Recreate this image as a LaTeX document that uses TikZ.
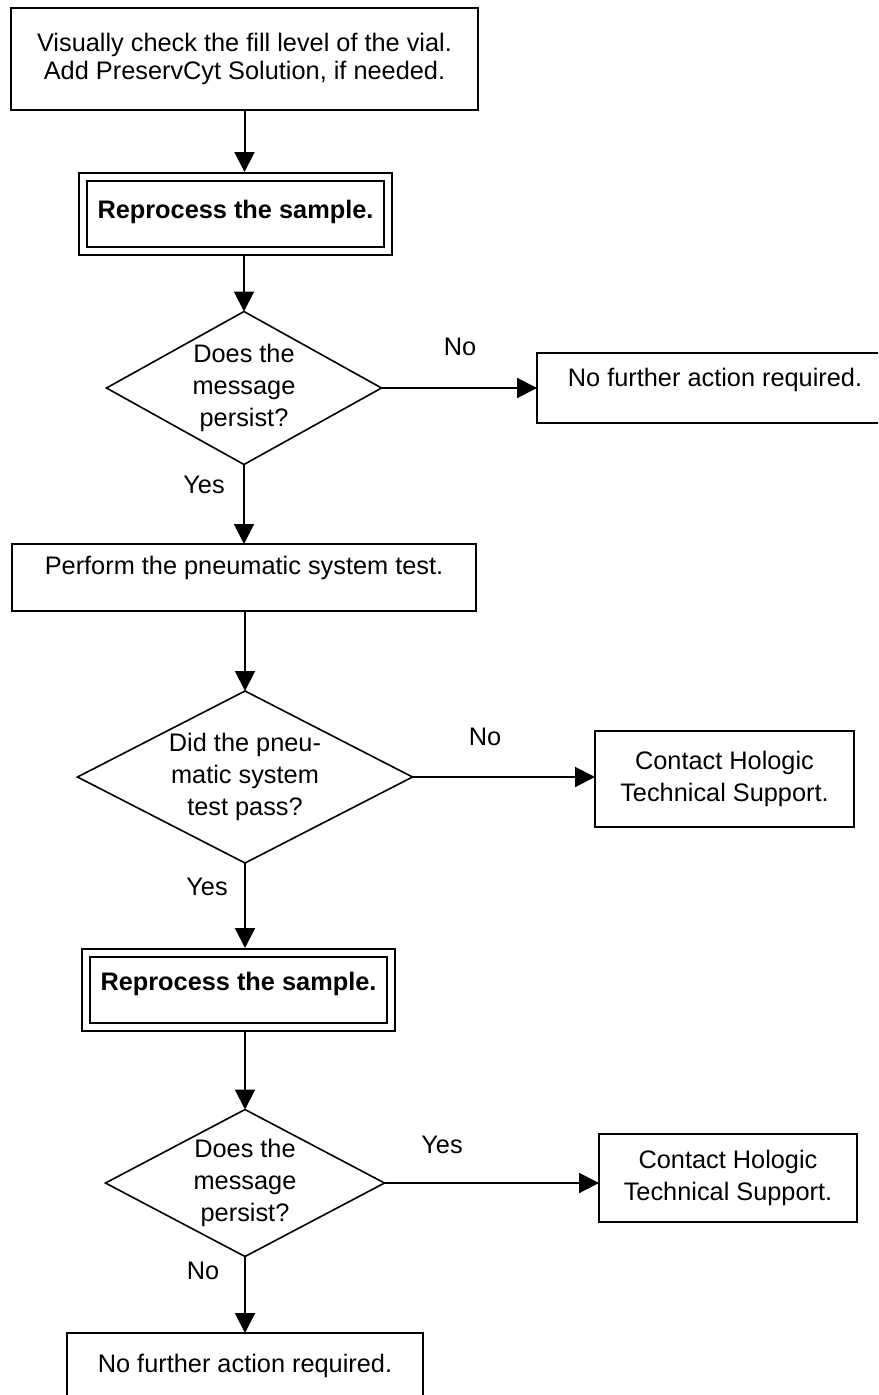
\documentclass[tikz,border=0pt]{standalone}
\usepackage{fontspec}
\setmainfont{Liberation Sans}
\usetikzlibrary{shapes.geometric,arrows.meta}

\begin{document}
\begin{tikzpicture}[x=0.75pt, y=-0.75pt,
    font=\fontsize{19}{24}\selectfont,
    box/.style={draw, line width=1.5pt, inner sep=0pt, outer sep=0pt},
    onebox/.style={box, text height=13.6pt, text depth=16pt},
    redo/.style={draw, line width=1.5pt, double, double distance=4.5pt,
        inner sep=0pt, outer sep=3.75pt, font=\fontsize{19}{24}\selectfont\bfseries,
        text height=13.6pt, minimum width=228.75pt, minimum height=55.5pt},
    ask/.style={draw, diamond, line width=1.2pt, inner sep=0pt, outer sep=0pt, align=center},
    arr/.style={line width=1.5pt, -{Triangle[length=15pt,width=15pt]}}]
    \useasboundingbox (0,0) rectangle (878,1395);
    \clip (0,0) rectangle (878,1395);
    % Steps
    \node[box, align=center, minimum width=350.25pt, minimum height=76.5pt,
        font=\fontsize{19}{21}\selectfont] (fill) at (244.5,59)
        {Visually check the fill level of the vial.\\Add PreservCyt Solution, if needed.};
    \node[redo, text depth=7.5pt] (redo1) at (235.5,214) {Reprocess the sample.};
    \node[ask, aspect=1.8, minimum width=206.25pt, minimum height=114.75pt] (ask1) at (244,388)
        {Does the\\message\\persist?};
    \node[onebox, minimum width=267pt, minimum height=52.5pt, text depth=16.5pt] (done1) at (715,388)
        {No further action required.};
    \node[onebox, minimum width=348pt, minimum height=50.25pt, text depth=18pt] (pneu) at (244,577.5)
        {Perform the pneumatic system test.};
    \node[ask, aspect=1.95, minimum width=251.25pt, minimum height=129pt] (ask2) at (245,777)
        {Did the pneu-\\matic system\\test pass?};
    \node[box, align=center, minimum width=194.25pt, minimum height=72pt] (call1) at (724.5,779)
        {Contact Hologic\\Technical Support.};
    \node[redo, text depth=12.8pt] (redo2) at (238.5,990) {Reprocess the sample.};
    \node[ask, aspect=1.9, minimum width=209.25pt, minimum height=110.25pt] (ask3) at (245,1183)
        {Does the\\message\\persist?};
    \node[box, align=center, minimum width=193.5pt, minimum height=66pt] (call2) at (728,1178)
        {Contact Hologic\\Technical Support.};
    \node[onebox, minimum width=267pt, minimum height=60pt, text depth=15pt] (done2) at (245,1373)
        {No further action required.};
    % Answers
    \node (no1) at (460,347) {No};
    \node (yes1) at (204,485) {Yes};
    \node (no2) at (485,737) {No};
    \node (yes2) at (207,887) {Yes};
    \node (yes3) at (442,1145) {Yes};
    \node (no3) at (203,1271) {No};
    % Flow
    \draw[arr] (fill.south) -- (fill.south |- redo1.north);
    \draw[arr] (redo1.south -| ask1.north) -- (ask1.north);
    \draw[arr] (ask1.east) -- (done1.west);
    \draw[arr] (ask1.south) -- (ask1.south |- pneu.north);
    \draw[arr] (pneu.south -| ask2.north) -- (ask2.north);
    \draw[arr] (ask2.east) -- (ask2.east -| call1.west);
    \draw[arr] (ask2.south) -- (ask2.south |- redo2.north);
    \draw[arr] (redo2.south -| ask3.north) -- (ask3.north);
    \draw[arr] (ask3.east) -- (ask3.east -| call2.west);
    \draw[arr] (ask3.south) -- (ask3.south |- done2.north);
\end{tikzpicture}
\end{document}
